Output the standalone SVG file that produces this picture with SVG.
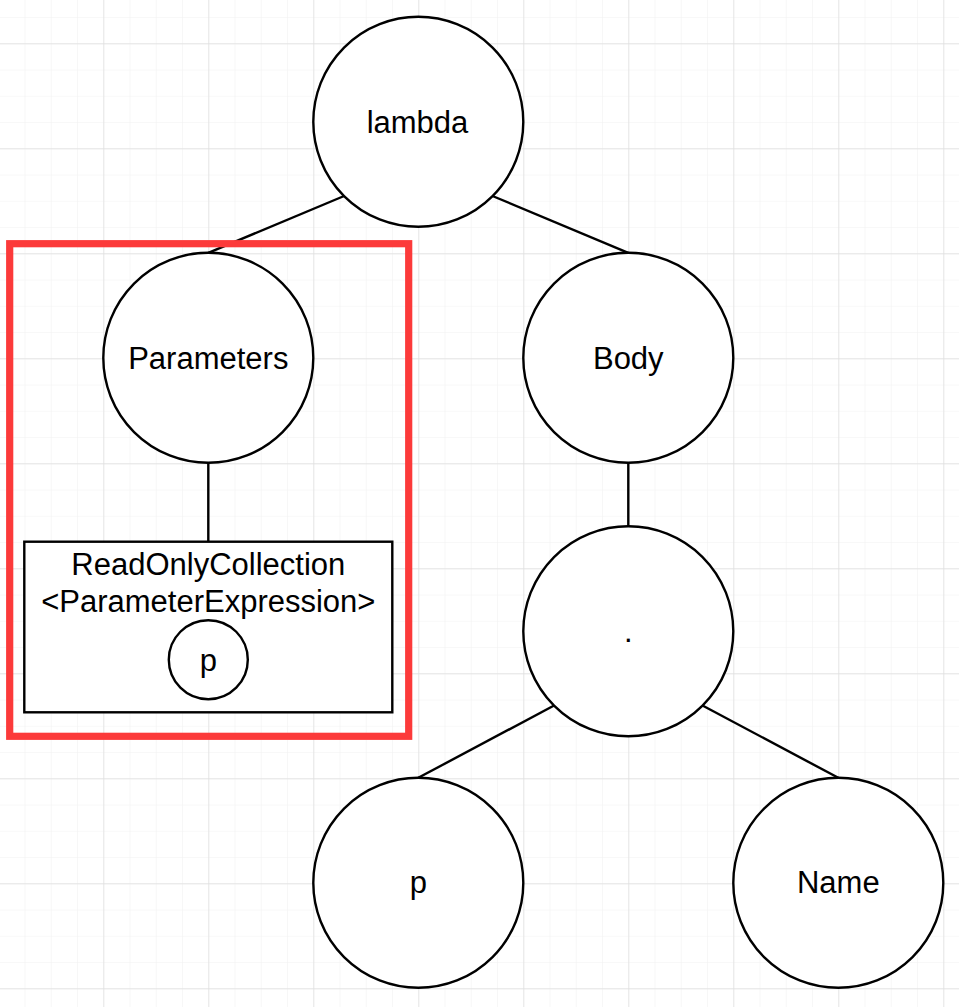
<svg xmlns="http://www.w3.org/2000/svg" width="959" height="1007" viewBox="0 0 959 1007">
<defs>
<pattern id="minor" x="-1.7" y="-9.2" width="26.25" height="26.25" patternUnits="userSpaceOnUse">
<path d="M0 0H26.25M0 0V26.25" fill="none" stroke="#f2f2f2" stroke-width="1.2"/>
</pattern>
<pattern id="major" x="-1.7" y="43.3" width="105" height="105" patternUnits="userSpaceOnUse">
<path d="M0 0H105M0 0V105" fill="none" stroke="#dedede" stroke-width="1.3"/>
</pattern>
</defs>
<style>
.node{fill:#ffffff;stroke:#000000;stroke-width:2.4}
.lbl{font-family:"Liberation Sans",Arial,sans-serif;font-size:31px;fill:#000000;text-anchor:middle}
.edge{stroke:#000000;stroke-width:2.4;fill:none}
</style>
<rect width="959" height="1007" fill="#ffffff"/>
<rect width="959" height="1007" fill="url(#minor)"/>
<rect width="959" height="1007" fill="url(#major)"/>
<g id="connectors">
<line class="edge" x1="344.1" y1="196" x2="208.3" y2="252.8"/>
<line class="edge" x1="492.5" y1="196" x2="628.3" y2="252.8"/>
<line class="edge" x1="208.3" y1="462.8" x2="208.3" y2="541.7"/>
<line class="edge" x1="628.3" y1="462.8" x2="628.3" y2="526.3"/>
<line class="edge" x1="554.1" y1="705.5" x2="418.3" y2="777.8"/>
<line class="edge" x1="702.5" y1="705.5" x2="838.3" y2="777.8"/>
</g>
<g id="lambda">
<circle class="node" cx="418.3" cy="121.8" r="105"/>
<text class="lbl" x="417.5" y="133">lambda</text>
</g>
<g id="parameters">
<circle class="node" cx="208.3" cy="357.8" r="105"/>
<text class="lbl" x="208.3" y="368.5">Parameters</text>
</g>
<g id="body">
<circle class="node" cx="628.3" cy="357.8" r="105"/>
<text class="lbl" x="628.3" y="368.5">Body</text>
</g>
<g id="collection">
<rect class="node" x="24.3" y="541.7" width="368" height="170.6"/>
<text class="lbl" x="208.3" y="574.5">ReadOnlyCollection</text>
<text class="lbl" x="208.3" y="611.5">&lt;ParameterExpression&gt;</text>
<circle class="node" cx="208.3" cy="659.7" r="39.5"/>
<text class="lbl" x="208.3" y="670.7">p</text>
</g>
<g id="dot">
<circle class="node" cx="628.3" cy="631.3" r="105"/>
<text class="lbl" x="628.3" y="642">.</text>
</g>
<g id="p">
<circle class="node" cx="418.3" cy="882.8" r="105"/>
<text class="lbl" x="418.3" y="893.3">p</text>
</g>
<g id="name">
<circle class="node" cx="838.3" cy="882.8" r="105"/>
<text class="lbl" x="838.3" y="893.3">Name</text>
</g>
<g id="highlight">
<rect x="9.7" y="243.7" width="399" height="492.6" fill="none" stroke="#fc3a3a" stroke-width="7.2"/>
</g>
</svg>
